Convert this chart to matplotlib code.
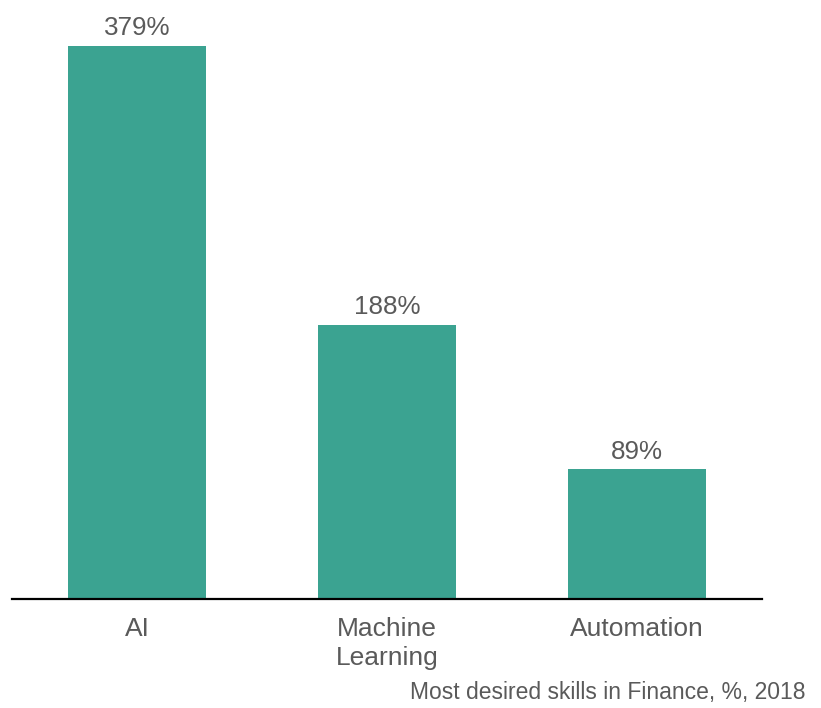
import matplotlib
matplotlib.use("Agg")
import matplotlib.pyplot as plt

skills = ["AI", "Machine\nLearning", "Automation"]
growth = [379, 188, 89]
value_labels = ["379%", "188%", "89%"]
caption = "Most desired skills in Finance, %, 2018"

plt.rcParams["font.family"] = ["Liberation Sans", "DejaVu Sans"]

bar_color = "#3ba391"
text_color = "#5a5a5a"

fig = plt.figure(figsize=(8.21, 7.08), dpi=100)
ax = fig.add_axes([12 / 821, 1 - 599 / 708, 750 / 821, 599 / 708])

x = range(len(skills))
bars = ax.bar(x, growth, width=0.552, color=bar_color)
for bar, label in zip(bars, value_labels):
    ax.annotate(label, (bar.get_x() + bar.get_width() / 2, bar.get_height()),
                xytext=(0, 4), textcoords="offset points",
                ha="center", va="bottom", fontsize=18.7, color=text_color)

ax.set_xlim(-0.5, 2.5)
ax.set_ylim(0, 410.5)
ax.set_xticks(list(x))
ax.set_xticklabels(skills, fontsize=19, color=text_color, linespacing=1.25)
ax.tick_params(axis="x", length=0, pad=13)
ax.set_yticks([])
for side in ["top", "right", "left"]:
    ax.spines[side].set_visible(False)
ax.spines["bottom"].set_linewidth(1.6)
ax.spines["bottom"].set_color("black")

fig.text(805 / 821, 1 - 692 / 708, caption, ha="right", va="center",
         fontsize=16.5, color=text_color)

fig.savefig("out.png", dpi=100)
